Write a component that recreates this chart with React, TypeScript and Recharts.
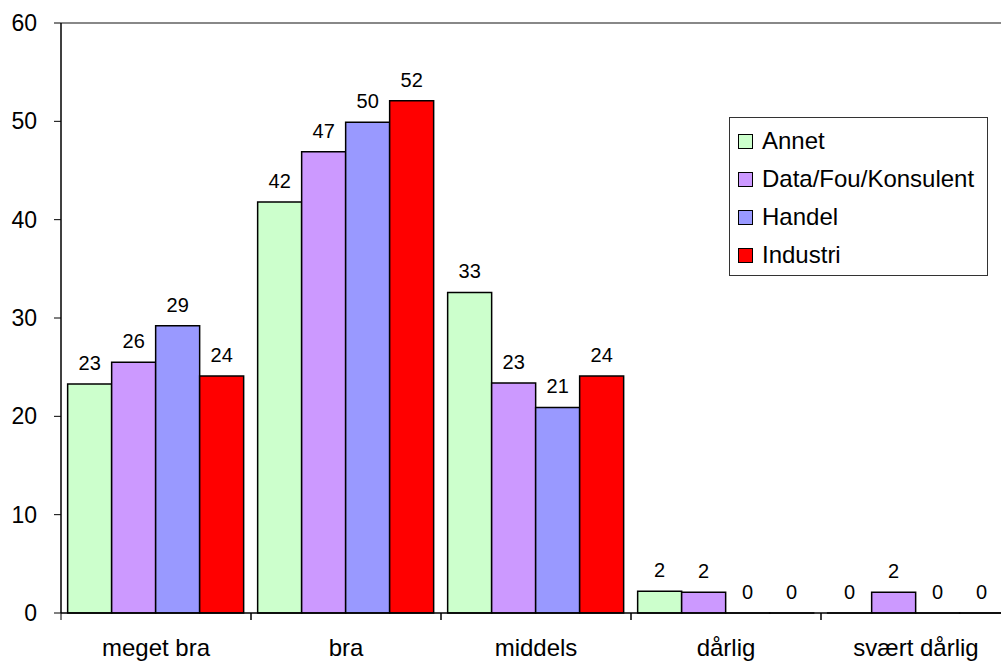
import React from 'react';
import { BarChart, Bar, XAxis, YAxis, Legend, LabelList, ReferenceLine } from 'recharts';

const categories = ['meget bra', 'bra', 'middels', 'dårlig', 'svært dårlig'];
const annet = [23.3, 41.8, 32.6, 2.2, 0];
const dataFou = [25.5, 46.9, 23.4, 2.1, 2.1];
const handel = [29.2, 49.9, 20.9, 0, 0];
const industri = [24.1, 52.1, 24.1, 0, 0];
const yTicks = [0, 10, 20, 30, 40, 50, 60];

const SERIES = [
  { key: 'annet', name: 'Annet', color: '#CCFFCC' },
  { key: 'dataFou', name: 'Data/Fou/Konsulent', color: '#CC99FF' },
  { key: 'handel', name: 'Handel', color: '#9999FF' },
  { key: 'industri', name: 'Industri', color: '#FF0000' },
];

const chartData = categories.map((name, i) => ({
  name,
  annet: annet[i],
  dataFou: dataFou[i],
  handel: handel[i],
  industri: industri[i],
}));

const FONT = 'Arial, "Liberation Sans", Helvetica, sans-serif';
const X_TICK_SIZE = 7;
const X_TICK_MARGIN = 19;

// category label + tick mark at the edges of each category band
const CategoryTick = (props: any) => {
  const { x, y, payload, width, visibleTicksCount } = props;
  const band = width / visibleTicksCount;
  const axisY = y - X_TICK_MARGIN - X_TICK_SIZE;
  return (
    <g>
      <line x1={x - band / 2} x2={x - band / 2} y1={axisY} y2={axisY + X_TICK_SIZE} stroke="#000" />
      <line x1={x + band / 2} x2={x + band / 2} y1={axisY} y2={axisY + X_TICK_SIZE} stroke="#000" />
      <text x={x} y={y} dy="0.71em" textAnchor="middle" fontSize={24} fill="#000" fontFamily={FONT}>
        {payload.value}
      </text>
    </g>
  );
};

const LegendBox = () => (
  <div
    style={{
      border: '1px solid #333',
      background: '#fff',
      width: 257,
      height: 153,
      boxSizing: 'content-box',
      paddingTop: 4,
      fontFamily: FONT,
      fontSize: 24,
      color: '#000',
    }}
  >
    {SERIES.map((s) => (
      <div key={s.key} style={{ display: 'flex', alignItems: 'center', height: 38, whiteSpace: 'nowrap' }}>
        <span
          style={{
            display: 'inline-block',
            width: 13,
            height: 13,
            background: s.color,
            border: '1px solid #000',
            marginLeft: 8,
            marginRight: 9,
            flex: 'none',
          }}
        />
        <span>{s.name}</span>
      </div>
    ))}
  </div>
);

// zero-height bars get dropped otherwise, and their "0" label with them
const keepZero = (v: any) => (Number(v) === 0 ? 0.01 : 0);

const App: React.FC = () => {
  return (
    <div style={{ position: 'absolute', left: 0, top: 0, width: 1001, height: 663, overflow: 'hidden', background: '#fff' }}>
      <BarChart
        width={1015}
        height={663}
        data={chartData}
        margin={{ top: 23, right: 4, bottom: 0, left: 0 }}
        barCategoryGap="3.5%"
        barGap={0}
        style={{ fontFamily: FONT }}
      >
        <XAxis
          dataKey="name"
          axisLine={{ stroke: '#000', strokeWidth: 1.5 }}
          tickLine={false}
          tickSize={X_TICK_SIZE}
          tickMargin={X_TICK_MARGIN}
          height={50}
          interval={0}
          tick={<CategoryTick />}
        />
        <YAxis
          domain={[0, 60]}
          ticks={yTicks}
          width={61}
          tickSize={7}
          tickMargin={17}
          stroke="#000"
          axisLine={{ stroke: '#000', strokeWidth: 1.5 }}
          tick={{ fill: '#000', fontSize: 23 }}
        />
        <ReferenceLine y={60} stroke="#888" strokeWidth={2} />
        <Legend
          layout="vertical"
          align="center"
          verticalAlign="middle"
          content={() => <LegendBox />}
          wrapperStyle={{ position: 'absolute', left: 729, top: 117, width: 259, height: 158 }}
        />
        {SERIES.map((s) => (
          <Bar
            key={s.key}
            dataKey={s.key}
            name={s.name}
            fill={s.color}
            stroke="#000"
            strokeWidth={1.5}
            minPointSize={keepZero}
            isAnimationActive={false}
          >
            <LabelList
              dataKey={s.key}
              position="top"
              offset={14}
              fill="#000"
              fontSize={20}
              formatter={(v: any) => String(Math.round(Number(v)))}
            />
          </Bar>
        ))}
      </BarChart>
    </div>
  );
};

export default App;
